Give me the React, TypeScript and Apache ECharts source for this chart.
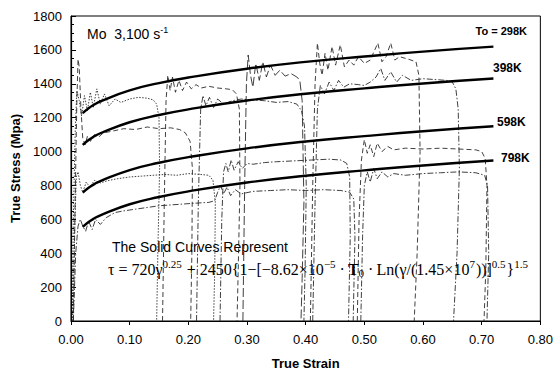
import React, { useEffect, useRef } from "react";
import * as echarts from "echarts";

// ---- Data ----
const xTicks = [0, 0.1, 0.2, 0.3, 0.4, 0.5, 0.6, 0.7, 0.8];
const yTicks = [0, 200, 400, 600, 800, 1000, 1200, 1400, 1600, 1800];

// Model (solid) curves, read at these strains
const modelStrain = [0.02, 0.03, 0.04, 0.05, 0.1, 0.15, 0.2, 0.3, 0.4, 0.5, 0.6, 0.72];
const model298 = [1227, 1256, 1278, 1296, 1361, 1404, 1437, 1489, 1529, 1561, 1590, 1619];
const model398 = [1039, 1068, 1090, 1108, 1173, 1216, 1249, 1301, 1341, 1373, 1402, 1431];
const model598 = [757, 786, 808, 826, 891, 934, 967, 1019, 1059, 1091, 1120, 1149];
const model798 = [555, 584, 606, 624, 689, 732, 765, 817, 857, 889, 918, 947];

// Experimental traces [strain, stress]
const exp298a = [[0.002,0],[0.004,600],[0.007,1100],[0.010,1360],[0.014,1300],[0.018,1210],[0.023,1330],[0.028,1240],[0.033,1350],[0.038,1260],[0.044,1370],[0.050,1280],[0.057,1340],[0.065,1270],[0.075,1310],[0.085,1290],[0.10,1310],[0.115,1320],[0.13,1315],[0.14,1305],[0.146,1280],[0.150,1200],[0.151,900],[0.148,400],[0.146,0]];
const exp398a = [[0.004,0],[0.007,700],[0.010,1300],[0.012,1545],[0.014,1500],[0.017,1250],[0.020,1080],[0.024,1040],[0.028,1090],[0.033,1060],[0.040,1100],[0.047,1085],[0.055,1110],[0.07,1120],[0.09,1135],[0.11,1130],[0.13,1145],[0.15,1135],[0.17,1140],[0.185,1130],[0.195,1110],[0.203,1060],[0.207,900],[0.206,400],[0.204,0]];
const exp298b = [[0.156,0],[0.159,700],[0.162,1300],[0.165,1450],[0.169,1360],[0.173,1440],[0.178,1350],[0.184,1420],[0.19,1360],[0.197,1410],[0.205,1370],[0.213,1395],[0.222,1375],[0.235,1385],[0.25,1375],[0.265,1370],[0.275,1365],[0.282,1340],[0.287,1250],[0.288,800],[0.285,300],[0.283,0]];
const exp398b = [[0.214,0],[0.217,700],[0.221,1250],[0.225,1330],[0.23,1270],[0.236,1320],[0.243,1260],[0.25,1310],[0.26,1280],[0.275,1300],[0.29,1310],[0.31,1305],[0.33,1300],[0.35,1290],[0.37,1295],[0.385,1280],[0.393,1240],[0.398,1150],[0.401,800],[0.399,300],[0.397,0]];
const exp298c = [[0.293,0],[0.296,800],[0.299,1400],[0.302,1570],[0.306,1450],[0.31,1380],[0.315,1520],[0.321,1420],[0.327,1530],[0.333,1440],[0.34,1510],[0.348,1450],[0.356,1480],[0.365,1445],[0.375,1460],[0.385,1440],[0.39,1420],[0.394,1300],[0.397,700],[0.394,250],[0.392,0]];
const exp298d = [[0.408,0],[0.412,800],[0.416,1400],[0.42,1640],[0.424,1520],[0.428,1450],[0.433,1580],[0.438,1480],[0.445,1620],[0.451,1510],[0.459,1630],[0.466,1500],[0.474,1540],[0.482,1510],[0.49,1560],[0.5,1520],[0.51,1540],[0.523,1640],[0.53,1530],[0.537,1560],[0.545,1640],[0.552,1540],[0.56,1560],[0.575,1545],[0.588,1530],[0.593,1450],[0.595,1000],[0.59,400],[0.585,0]];
const exp398c = [[0.412,0],[0.416,700],[0.42,1250],[0.425,1390],[0.432,1340],[0.44,1410],[0.448,1360],[0.456,1420],[0.465,1380],[0.475,1400],[0.49,1395],[0.5,1390],[0.51,1410],[0.52,1440],[0.528,1490],[0.535,1420],[0.545,1470],[0.555,1410],[0.565,1450],[0.58,1420],[0.6,1430],[0.62,1425],[0.64,1420],[0.65,1410],[0.656,1370],[0.66,1250],[0.662,900],[0.658,400],[0.652,0]];
const exp598a = [[0.003,0],[0.006,500],[0.009,850],[0.012,880],[0.016,800],[0.02,760],[0.026,820],[0.032,790],[0.04,830],[0.05,815],[0.065,830],[0.08,840],[0.1,850],[0.12,855],[0.14,860],[0.16,865],[0.18,860],[0.2,870],[0.22,865],[0.235,860],[0.242,830],[0.246,700],[0.245,300],[0.243,0]];
const exp598b = [[0.254,0],[0.257,600],[0.26,880],[0.264,930],[0.268,880],[0.273,950],[0.278,890],[0.285,940],[0.292,900],[0.3,930],[0.31,925],[0.33,935],[0.35,940],[0.38,945],[0.41,950],[0.44,955],[0.46,950],[0.47,930],[0.475,850],[0.476,500],[0.473,0]];
const exp598c = [[0.488,0],[0.491,600],[0.495,950],[0.50,1070],[0.505,990],[0.51,1040],[0.516,970],[0.522,1050],[0.53,1000],[0.54,1030],[0.55,1010],[0.57,1020],[0.6,1015],[0.63,1020],[0.66,1015],[0.69,1010],[0.70,1000],[0.706,960],[0.709,800],[0.707,300],[0.704,0]];
const exp798a = [[0.004,0],[0.008,400],[0.012,560],[0.016,600],[0.02,560],[0.025,530],[0.03,590],[0.036,540],[0.042,600],[0.05,570],[0.06,610],[0.075,640],[0.09,650],[0.11,660],[0.13,670],[0.15,680],[0.17,685],[0.19,690],[0.21,695],[0.235,700],[0.245,710],[0.25,760],[0.255,800],[0.26,750],[0.266,790],[0.272,740],[0.28,775],[0.29,750],[0.31,765],[0.34,770],[0.37,775],[0.40,770],[0.43,775],[0.46,770],[0.475,760],[0.482,720],[0.484,500],[0.481,0]];
const exp798b = [[0.494,0],[0.497,500],[0.5,800],[0.505,880],[0.51,820],[0.516,900],[0.522,840],[0.53,880],[0.54,850],[0.55,870],[0.57,860],[0.6,870],[0.63,875],[0.66,880],[0.69,875],[0.705,860],[0.71,800],[0.712,400],[0.709,0]];

const tempLabels = ["To = 298K", "398K", "598K", "798K"];

const DASH = [5, 3];
const DOT = [1.5, 1.5];
const DASHDOT = [6, 2, 1.5, 2];
const LONGDASH = [9, 3];

export default function App() {
  const ref = useRef<HTMLDivElement>(null);
  useEffect(() => {
    if (!ref.current) return;
    const chart = echarts.init(ref.current, null, { renderer: "svg" });
    const font = "Liberation Sans";
    const serif = "Liberation Serif";
    const expStyle = (type: any) => ({
      type: "line",
      showSymbol: false,
      symbol: "none",
      silent: true,
      z: 2,
      lineStyle: { color: "#2a2a2a", width: 0.9, type },
    });
    const modelSeries = (d: number[]) => ({
      type: "line",
      showSymbol: false,
      symbol: "none",
      smooth: true,
      z: 5,
      lineStyle: { color: "#000", width: 2.4 },
      data: modelStrain.map((s, i) => [s, d[i]]),
    });
    const exps: [number[][], any][] = [
      [exp298a, DOT],
      [exp398a, DASH],
      [exp298b, DASH],
      [exp398b, DASHDOT],
      [exp298c, LONGDASH],
      [exp298d, DASH],
      [exp398c, DASHDOT],
      [exp598a, DOT],
      [exp598b, DASHDOT],
      [exp598c, DASH],
      [exp798a, DASHDOT],
      [exp798b, DASHDOT],
    ];
    const FS = 16;
    chart.setOption({
      animation: false,
      grid: {
        left: 71,
        top: 16,
        right: 12,
        bottom: 53,
        show: true,
        borderColor: "#000",
        borderWidth: 1,
        backgroundColor: "transparent",
      },
      xAxis: {
        type: "value",
        min: xTicks[0],
        max: xTicks[xTicks.length - 1],
        interval: 0.1,
        name: "True Strain",
        nameLocation: "middle",
        nameGap: 36,
        nameTextStyle: { fontFamily: font, fontWeight: "bold", fontSize: 13, color: "#000" },
        axisLine: { lineStyle: { color: "#000", width: 1.2 } },
        axisTick: { show: true, inside: false, length: 4, lineStyle: { color: "#000" } },
        axisLabel: {
          margin: 12,
          fontFamily: font,
          fontSize: 13,
          color: "#000",
          formatter: (v: number) => v.toFixed(2),
        },
        splitLine: { show: false },
      },
      yAxis: {
        type: "value",
        min: yTicks[0],
        max: yTicks[yTicks.length - 1],
        interval: 200,
        name: "True Stress (Mpa)",
        nameLocation: "middle",
        nameGap: 47,
        nameTextStyle: { fontFamily: font, fontWeight: "bold", fontSize: 13, color: "#000" },
        axisLine: { show: true, lineStyle: { color: "#000", width: 1.2 } },
        axisTick: { show: true, inside: true, length: 5, lineStyle: { color: "#000" } },
        minorTick: { show: true, splitNumber: 4, length: 3, lineStyle: { color: "#000" } },
        axisLabel: {
          margin: 9,
          fontFamily: font,
          fontSize: 13,
          color: "#000",
          formatter: (v: number) => String(v),
        },
        splitLine: { show: false },
      },
      series: [
        ...exps.map(([d, t]) => ({ ...expStyle(t), data: d })),
        modelSeries(model298),
        modelSeries(model398),
        modelSeries(model598),
        modelSeries(model798),
      ],
      graphic: [
        {
          type: "text",
          x: 87,
          y: 34,
          z: 10,
          style: {
            text: "Mo  3,100 s{sup|-1}",
            fontFamily: font,
            fontSize: 14,
            fill: "#000",
            verticalAlign: "middle",
            rich: { sup: { fontFamily: font, fontSize: 9, padding: [0, 0, 9, 0], verticalAlign: "bottom" } },
          },
        },
        {
          type: "text", x: 527, y: 31, z: 10,
          style: { text: tempLabels[0], fontFamily: font, fontSize: 11, fontWeight: "bold", fill: "#000", align: "right", verticalAlign: "middle" },
        },
        {
          type: "text", x: 493, y: 68, z: 10,
          style: { text: tempLabels[1], fontFamily: font, fontSize: 12, fontWeight: "bold", fill: "#000", verticalAlign: "middle" },
        },
        {
          type: "text", x: 497, y: 122, z: 10,
          style: { text: tempLabels[2], fontFamily: font, fontSize: 12, fontWeight: "bold", fill: "#000", verticalAlign: "middle" },
        },
        {
          type: "text", x: 501, y: 158, z: 10,
          style: { text: tempLabels[3], fontFamily: font, fontSize: 12, fontWeight: "bold", fill: "#000", verticalAlign: "middle" },
        },
        {
          type: "text", x: 112, y: 247, z: 10,
          style: { text: "The Solid Curves Represent", fontFamily: font, fontSize: 14, fill: "#000", verticalAlign: "middle" },
        },
        {
          type: "text",
          x: 108,
          y: 269,
          z: 10,
          style: {
            text:
              "τ = 720γ{sup|0.25} + 2450{1−[−8.62×10{sup|−5}{dot|·}{b|T}{sub|0}{dot|·}Ln(γ/(1.45×10{sup|7}))]{sup|0.5}}{sup|1.5}",
            fontFamily: serif,
            fontSize: FS,
            fill: "#000",
            verticalAlign: "middle",
            rich: {
              sup: { fontFamily: serif, fontSize: 11, padding: [0, 1, 11, 0], verticalAlign: "bottom" },
              sub: { fontFamily: serif, fontSize: 11, padding: [9, 1, 0, 0], verticalAlign: "top" },
              b: { fontFamily: serif, fontSize: FS, fontWeight: "bold" },
              dot: { fontFamily: serif, fontSize: FS, padding: [0, 3, 0, 3] },
            },
          },
        },
      ],
    });
    return () => chart.dispose();
  }, []);
  return <div ref={ref} style={{ width: 556, height: 375, position: "absolute", left: 0, top: 0, background: "#fff" }} />;
}
